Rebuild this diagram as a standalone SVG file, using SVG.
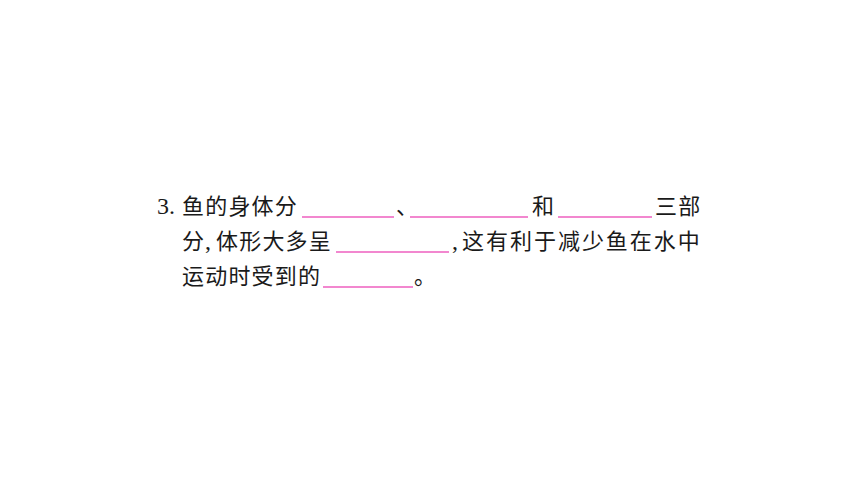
<svg xmlns="http://www.w3.org/2000/svg" width="860" height="484" viewBox="0 0 860 484">
<style>
.t{font-family:"Noto Sans CJK SC","Noto Sans",sans-serif;font-size:22px;fill:#1a1a1a;letter-spacing:1.2px}
.n{font-family:"Liberation Serif",serif;font-size:24px;fill:#1a1a1a}
.b{stroke:#ee5fbf;stroke-width:1.3;fill:none}
</style>
<rect width="860" height="484" fill="#ffffff"/>
<g id="line1">
<text class="n" x="157" y="214">3.</text>
<text class="t" x="182" y="214">鱼的身体分</text>
<text class="t" x="396" y="214">、</text>
<text class="t" x="532" y="214">和</text>
<text class="t" x="655" y="214">三部</text>
</g>
<g id="line2">
<text class="t" x="182" y="249">分</text>
<text class="n" x="205" y="249">,</text>
<text class="t" x="216" y="249">体形大多呈</text>
<text class="n" x="452" y="249">,</text>
<text class="t" x="462" y="249" textLength="239" lengthAdjust="spacing">这有利于减少鱼在水中</text>
</g>
<g id="line3">
<text class="t" x="182" y="284">运动时受到的</text>
<text class="t" x="414" y="284">。</text>
</g>
<g id="blanks">
<line class="b" x1="302" y1="217" x2="394" y2="217"/>
<line class="b" x1="410" y1="217" x2="528" y2="217"/>
<line class="b" x1="558" y1="217" x2="652" y2="217"/>
<line class="b" x1="336" y1="252" x2="449" y2="252"/>
<line class="b" x1="323" y1="287" x2="413" y2="287"/>
</g>
</svg>
